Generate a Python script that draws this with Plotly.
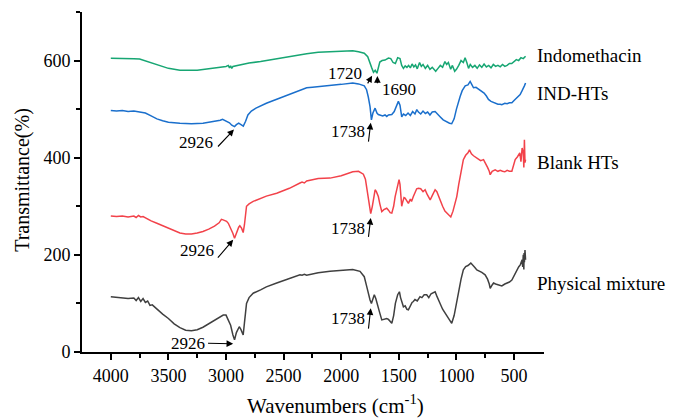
import plotly.graph_objects as go

# ---------------- data ----------------
ind_wn = [4000,3900,3800,3750,3700,3600,3500,3400,3300,3250,3150,3050,3000,2980,2970,2960,2950,2940,2900,2800,
          2700,2600,2500,2400,2300,2200,2100,2000,1900,1850,1800,1770,1750,1735,1720,1705,1690,1680,1665,1645,
          1620,1590,1570,1550,1530,1510,1490,1475,1460,1445,1430,1415,1400,1385,1370,1355,1340,1320,1305,1290,
          1270,1250,1230,1210,1190,1180,1160,1140,1120,1100,1085,1070,1050,1035,1015,1000,980,960,940,925,
          910,895,880,860,840,820,800,780,760,740,720,700,680,660,640,620,600,580,560,540,
          520,500,480,460,440,420,400]
ind_t = [605,605,604,603,599,591,584,580,579,580,583,586,588,590,585,589,584,588,590,595,
         598,602,606,611,614,617,618,618,620,618,615,608,597,585,576,580,574,584,597,600,
         601,605,604,596,594,606,604,590,584,589,586,590,585,593,587,591,583,596,588,592,
         584,590,582,586,580,578,584,590,586,598,592,596,582,590,578,582,590,600,596,606,
         596,584,592,586,590,584,591,586,593,587,590,585,592,588,590,587,592,588,590,594,
         594,598,602,600,606,604,609]

indht_wn = [4000,3950,3900,3850,3800,3750,3700,3650,3600,3550,3500,3400,3300,3200,3100,3050,3030,3000,2970,2950,
            2926,2910,2890,2870,2850,2830,2810,2780,2740,2650,2560,2450,2350,2300,2250,2200,2100,2000,1900,1850,
            1800,1780,1765,1750,1738,1725,1706,1690,1678,1660,1640,1620,1605,1590,1561,1540,1520,1504,1490,1475,
            1460,1440,1420,1400,1380,1360,1344,1330,1310,1290,1270,1250,1230,1210,1185,1160,1140,1115,1080,1060,
            1041,1020,1000,980,968,950,924,900,881,865,852,830,800,780,760,740,722,700,680,660,
            640,620,606,580,560,540,519,500,480,460,447,430,420,410,400]
indht_t = [497,496,497,495,496,494,492,486,480,476,473,471,470,471,474,477,479,476,472,467,
           464,468,471,468,465,475,488,496,502,512,520,531,540,544,545,546,549,551,554,552,
           548,540,525,505,478,492,502,492,489,487,486,488,485,488,489,495,508,516,508,484,
           490,487,492,487,495,490,499,494,490,496,491,494,488,494,495,488,484,478,473,471,
           470,480,500,520,526,538,548,550,557,550,544,545,540,537,533,527,520,516,514,513,
           510,510,509,512,511,513,513,518,522,527,530,538,545,548,554]

blank_wn = [4000,3950,3900,3850,3800,3780,3760,3740,3720,3700,3680,3650,3600,3550,3500,3450,3400,3350,3300,3250,
            3200,3150,3100,3060,3040,3025,3010,2995,2980,2960,2940,2926,2910,2890,2880,2865,2851,2840,2822,2800,
            2764,2700,2650,2560,2450,2358,2340,2320,2300,2200,2097,2000,1900,1850,1808,1790,1770,1755,1744,1730,
            1715,1706,1695,1678,1665,1648,1630,1605,1590,1575,1561,1545,1532,1515,1505,1498,1490,1480,1475,1465,
            1455,1446,1430,1417,1400,1390,1374,1360,1345,1330,1310,1290,1272,1255,1240,1228,1210,1195,1185,1170,
            1155,1142,1120,1100,1083,1065,1049,1030,1015,997,980,960,940,920,900,887,870,852,830,810,
            790,765,750,730,715,707,690,675,664,640,620,600,580,560,540,519,505,490,470,450,
            440,430,420,415,410,405,400]
blank_t = [280,279,280,278,280,277,281,278,279,276,274,270,265,260,255,249,245,243,243,245,
           248,253,259,266,273,272,270,269,265,256,244,234,245,257,260,255,246,262,300,305,
           310,316,321,327,337,348,350,348,352,357,358,363,371,372,366,356,327,300,285,300,
           320,334,330,320,305,289,293,296,292,287,286,300,320,338,350,355,345,320,300,310,
           318,317,310,306,315,310,320,330,336,337,336,330,334,325,316,313,322,330,334,330,
           320,313,300,290,286,280,278,290,305,320,345,370,396,405,410,416,408,404,400,398,
           394,396,390,380,372,365,372,373,375,372,374,372,371,374,372,372,382,396,402,410,
           392,420,410,380,437,390,396]

phys_wn = [4000,3950,3900,3850,3800,3780,3760,3740,3720,3700,3680,3660,3640,3600,3550,3500,3450,3400,3350,3300,
           3250,3200,3150,3100,3050,3024,3000,2981,2960,2940,2926,2910,2885,2870,2851,2840,2822,2800,2764,2700,
           2650,2560,2450,2358,2340,2320,2300,2200,2097,2000,1952,1900,1837,1800,1779,1760,1750,1738,1725,1713,
           1700,1690,1678,1665,1648,1630,1605,1590,1575,1561,1545,1530,1510,1495,1485,1470,1460,1445,1430,1417,
           1400,1385,1374,1360,1340,1316,1300,1280,1258,1240,1220,1200,1185,1170,1155,1142,1120,1100,1083,1060,
           1041,1020,997,980,960,940,920,900,875,860,840,823,800,780,751,730,715,707,690,678,
           660,640,620,606,580,560,540,519,505,490,476,460,445,430,425,420,415,413,410,405,400]
phys_t = [114,113,112,110,111,106,112,104,110,102,105,96,97,88,78,69,58,50,45,44,
          46,51,58,65,72,76,76,66,55,35,25,40,52,46,35,60,100,112,121,128,
          134,142,151,159,158,160,158,163,166,168,170,170,166,155,135,115,107,100,110,118,
          110,100,93,80,66,67,69,67,62,59,75,100,118,124,112,100,93,95,88,87,
          96,102,104,108,105,114,112,118,118,112,120,122,124,115,108,100,88,80,73,64,
          59,75,100,125,150,169,176,178,183,178,174,169,167,164,159,150,140,131,138,142,
          140,138,136,136,140,142,144,148,155,160,169,175,180,190,175,200,170,204,185,210,190]

series_names = ["Indomethacin", "IND-HTs", "Blank HTs", "Physical mixture"]
series_colors = ["#17a673", "#1a6fcc", "#f2424a", "#404040"]

x_ticks = [4000, 3500, 3000, 2500, 2000, 1500, 1000, 500]
x_minor = [3750, 3250, 2750, 2250, 1750, 1250, 750]
y_ticks = [0, 200, 400, 600]
y_minor = [100, 300, 500, 700]

FONT = "Liberation Serif"

fig = go.Figure()
for wn, t, name, col in zip([ind_wn, indht_wn, blank_wn, phys_wn],
                            [ind_t, indht_t, blank_t, phys_t],
                            series_names, series_colors):
    fig.add_trace(go.Scatter(x=wn, y=t, mode="lines", name=name,
                             line=dict(color=col, width=1.5), showlegend=False))

# series labels
label_y = [610, 532, 390, 142]
for name, ly in zip(series_names, label_y):
    fig.add_annotation(x=316, y=ly, text=name, showarrow=False, xanchor="left",
                       yanchor="middle", font=dict(family=FONT, size=19, color="black"))

# peak annotations: (text, text_x, text_y, head_x, head_y, tail_x, tail_y)
peaks = [
    ("1720", 1967, 573, 1732, 569, 1778, 550),
    ("1690", 1498, 540, 1686, 568, 1686, 550),
    ("2926", 3257, 432, 2931, 458, 3082, 420),
    ("1738", 1945, 454, 1744, 472, 1765, 430),
    ("2926", 3249, 210, 2938, 231, 3082, 191),
    ("1738", 1945, 254, 1744, 276, 1765, 234),
    ("2926", 3328, 18, 2938, 17, 3169, 18),
    ("1738", 1945, 70, 1744, 90, 1765, 45),
]
for txt, tx, ty, hx, hy, sx, sy in peaks:
    fig.add_annotation(x=tx, y=ty, text=txt, showarrow=False, xanchor="center", yanchor="middle",
                       font=dict(family=FONT, size=17, color="black"))
    fig.add_annotation(x=hx, y=hy, ax=sx, ay=sy, axref="x", ayref="y", text="",
                       showarrow=True, arrowhead=2, arrowsize=1.2, arrowwidth=1.1,
                       arrowcolor="black", standoff=0, startstandoff=0)

# axis titles
fig.add_annotation(xref="paper", yref="paper", x=0.548, y=-0.153, text="Wavenumbers (cm<sup>-1</sup>)",
                   showarrow=False, xanchor="center", yanchor="middle",
                   font=dict(family=FONT, size=21, color="black"))
fig.add_annotation(xref="paper", yref="paper", x=-0.128, y=0.506, text="Transmittance(%)",
                   showarrow=False, textangle=-90, xanchor="center", yanchor="middle",
                   font=dict(family=FONT, size=20, color="black"))

fig.update_xaxes(range=[4250, 240], tickmode="array", tickvals=x_ticks,
                 ticks="outside", ticklen=6, tickwidth=1.5, tickcolor="black",
                 showline=True, linecolor="black", linewidth=1.8, showgrid=False, zeroline=False,
                 minor=dict(tickmode="array", tickvals=x_minor, ticks="outside", ticklen=4,
                            tickwidth=1.5, tickcolor="black"),
                 tickfont=dict(family=FONT, size=18, color="black"))
fig.update_yaxes(range=[0, 700], tickmode="array", tickvals=y_ticks,
                 ticks="outside", ticklen=6, tickwidth=1.5, tickcolor="black",
                 showline=True, linecolor="black", linewidth=1.8, showgrid=False, zeroline=False,
                 minor=dict(tickmode="array", tickvals=y_minor, ticks="outside", ticklen=4,
                            tickwidth=1.5, tickcolor="black"),
                 tickfont=dict(family=FONT, size=18, color="black"))

# the page has an 8 px body margin; offset the figure so the plot lands where the reference has it
fig.update_layout(width=672, height=410, margin=dict(l=74, r=136, t=4, b=66),
                  paper_bgcolor="white", plot_bgcolor="white",
                  font=dict(family=FONT, color="black"))

fig.write_html("out.html")
